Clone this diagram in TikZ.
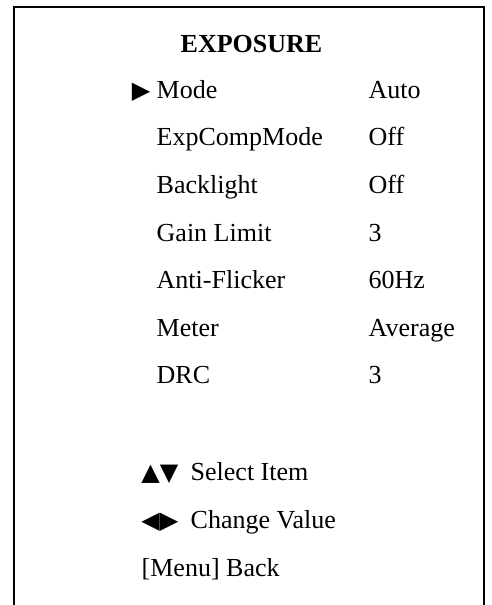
\documentclass[tikz,border=0pt]{standalone}
\usepackage{fontspec}
\setmainfont{Liberation Serif}
\newfontfamily\symfont{DejaVu Sans}
\usepackage{tikz}
\usetikzlibrary{positioning}

\tikzset{
    menutext/.style={inner sep=0pt, font=\fontsize{26}{30}\selectfont},
    menuhead/.style={menutext, anchor=base, font=\fontsize{26}{30}\selectfont\bfseries},
    menusym/.style={inner sep=0pt, anchor=base west, font=\fontsize{24}{28}\selectfont\symfont},
    rowgap/.style={below=47.6pt of #1, anchor=base west},
    valgap/.style={right=212pt of #1, anchor=base west},
    frameline/.style={line width=2pt}
}

\begin{document}
\begin{tikzpicture}[x=1pt,y=-1pt]
    \useasboundingbox (0,0) rectangle (492,605);
    \draw[frameline] (14.3,605) |- (484.3,7) -- (484.3,605);

    \node[menuhead] (title) at (251.5,52) {EXPOSURE};
    \node[menutext, anchor=base west] (mode) at (156.5,98.3) {Mode};
    \node[menutext, rowgap=mode.base west] (expcomp) {ExpCompMode};
    \node[menutext, rowgap=expcomp.base west] (backlight) {Backlight};
    \node[menutext, rowgap=backlight.base west] (gain) {Gain Limit};
    \node[menutext, rowgap=gain.base west] (flicker) {Anti-Flicker};
    \node[menutext, rowgap=flicker.base west] (meter) {Meter};
    \node[menutext, rowgap=meter.base west] (drc) {DRC};

    \node[menutext, valgap=mode.base west] (modeval) {Auto};
    \node[menutext, valgap=expcomp.base west] (expcompval) {Off};
    \node[menutext, valgap=backlight.base west] (backlightval) {Off};
    \node[menutext, valgap=gain.base west] (gainval) {3};
    \node[menutext, valgap=flicker.base west] (flickerval) {60Hz};
    \node[menutext, valgap=meter.base west] (meterval) {Average};
    \node[menutext, valgap=drc.base west] (drcval) {3};

    \node[menusym, left=6pt of mode.base west, anchor=base east] (cursor) {▶};

    \node[menutext, below=97pt of drc.base west, anchor=base west, xshift=34pt] (select) {Select Item};
    \node[menutext, rowgap=select.base west] (change) {Change Value};
    \node[menutext, rowgap=change.base west, xshift=-49pt] (back) {[Menu] Back};
    \node[menusym, left=12pt of select.base west, anchor=base east] (updown) {▲▼};
    \node[menusym, left=12pt of change.base west, anchor=base east] (leftright) {◀▶};
\end{tikzpicture}
\end{document}
